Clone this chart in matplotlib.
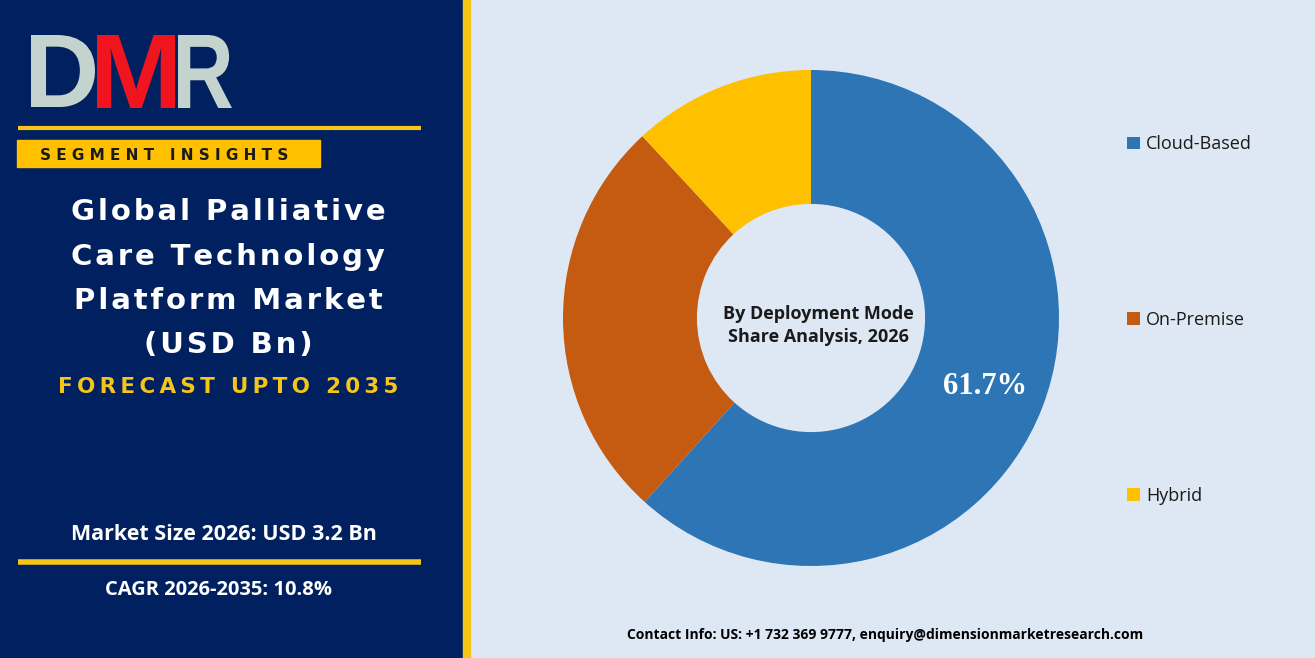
import matplotlib.pyplot as plt
from matplotlib.patches import Rectangle, PathPatch
from matplotlib.textpath import TextPath
from matplotlib.font_manager import FontProperties
from matplotlib.transforms import Affine2D

W, H = 1315, 658

labels = ['Cloud-Based', 'On-Premise', 'Hybrid']
shares = [61.7, 26.4, 11.9]
colors = ['#2E75B6', '#C55A11', '#FFC000']

title_lines = ['Global Palliative', 'Care Technology', 'Platform Market', '(USD Bn)']
forecast = 'FORECAST UPTO 2035'
market_size = 'Market Size 2026: USD 3.2 Bn'
cagr = 'CAGR 2026-2035: 10.8%'
center_text = 'By Deployment Mode\nShare Analysis, 2026'
contact = 'Contact Info: US: +1 732 369 9777, enquiry@dimensionmarketresearch.com'


def spaced(s, gap='\u2009'):
    return gap.join(s)


def logo_letter(ax, ch, x0, x1, y0, y1, color):
    # glyph squeezed into a pixel box (y grows downward)
    tp = TextPath((0, 0), ch, size=100, prop=FontProperties(family='Liberation Sans', weight='bold'))
    ext = tp.get_extents()
    sx = (x1 - x0) / ext.width
    sy = (y1 - y0) / ext.height
    tr = Affine2D().translate(-ext.x0, -ext.y0).scale(sx, -sy).translate(x0, y1)
    ax.add_patch(PathPatch(tr.transform_path(tp), color=color, lw=0))


fig = plt.figure(figsize=(W / 100, H / 100), dpi=100)
bg = fig.add_axes([0, 0, 1, 1])
bg.set_xlim(0, W)
bg.set_ylim(H, 0)
bg.axis('off')

# background panels
bg.add_patch(Rectangle((0, 0), W, H, color='#DEE8F4'))
bg.add_patch(Rectangle((0, 0), 463, H, color='#00205F'))
bg.add_patch(Rectangle((463, 0), 7, H, color='#F5C518'))

# logo
logo_letter(bg, 'D', 31, 95, 35, 107, '#C5D3CE')
logo_letter(bg, 'M', 97, 175, 35, 108, '#F0141E')
logo_letter(bg, 'R', 178, 232, 35, 108, '#C5D3CE')

bg.plot([18, 421], [127.5, 127.5], color='#F5C518', lw=3, solid_capstyle='butt')
bg.add_patch(Rectangle((17, 140), 303, 27, color='#FFC000'))
bg.text(164, 155, 'S E G M E N T   I N S I G H T S', color='#1a1a1a', fontsize=11,
        fontweight='bold', ha='center', va='center', family='DejaVu Sans')

ys = [212, 257, 301, 345]
for t, y in zip(title_lines, ys):
    bg.text(228, y, spaced(t, '\u200a'), color='white', fontsize=21, fontweight='bold',
            ha='center', va='center', family='DejaVu Sans')
bg.text(228, 387, spaced(forecast), color='#F5C518', fontsize=15.5, fontweight='bold',
        ha='center', va='center', family='DejaVu Sans')

bg.text(224, 535, market_size, color='white', fontsize=15.5, fontweight='bold',
        ha='center', va='center', family='Open Sans')
bg.plot([18, 421], [562, 562], color='#F5C518', lw=4, solid_capstyle='butt')
bg.text(219, 590, cagr, color='white', fontsize=14.5, fontweight='bold',
        ha='center', va='center', family='Open Sans')

bg.text(885, 635, contact, color='black', fontsize=10, fontweight='bold',
        ha='center', va='center', family='Open Sans')

# donut
cx, cy, r = 811, 318, 248
ax = fig.add_axes([(cx - r) / W, (H - cy - r) / H, 2 * r / W, 2 * r / H])
wedges, _ = ax.pie(shares, colors=colors, startangle=90, counterclock=False,
                   wedgeprops=dict(width=0.54, edgecolor='none'))
ax.set_xlim(-1, 1)
ax.set_ylim(-1, 1)
ax.set_aspect('equal')
ax.text(0.03, -0.03, center_text, ha='center', va='center', fontsize=13, fontweight='bold',
        color='#1a1a1a', family='Open Sans', linespacing=1.35)
ax.text(0.70, -0.275, f'{shares[0]}%', ha='center', va='center', fontsize=22, fontweight='bold',
        color='white', family='Liberation Serif')

leg = fig.legend(wedges, labels, loc='upper left', bbox_to_anchor=(1111 / W, 1 - 119 / H),
                 frameon=False, handlelength=0.7, handleheight=0.7,
                 handletextpad=0.35, labelspacing=8.73, prop={'family': 'Open Sans', 'size': 13})
for t in leg.get_texts():
    t.set_color('#1a1a1a')

fig.savefig('out.png', dpi=100)
